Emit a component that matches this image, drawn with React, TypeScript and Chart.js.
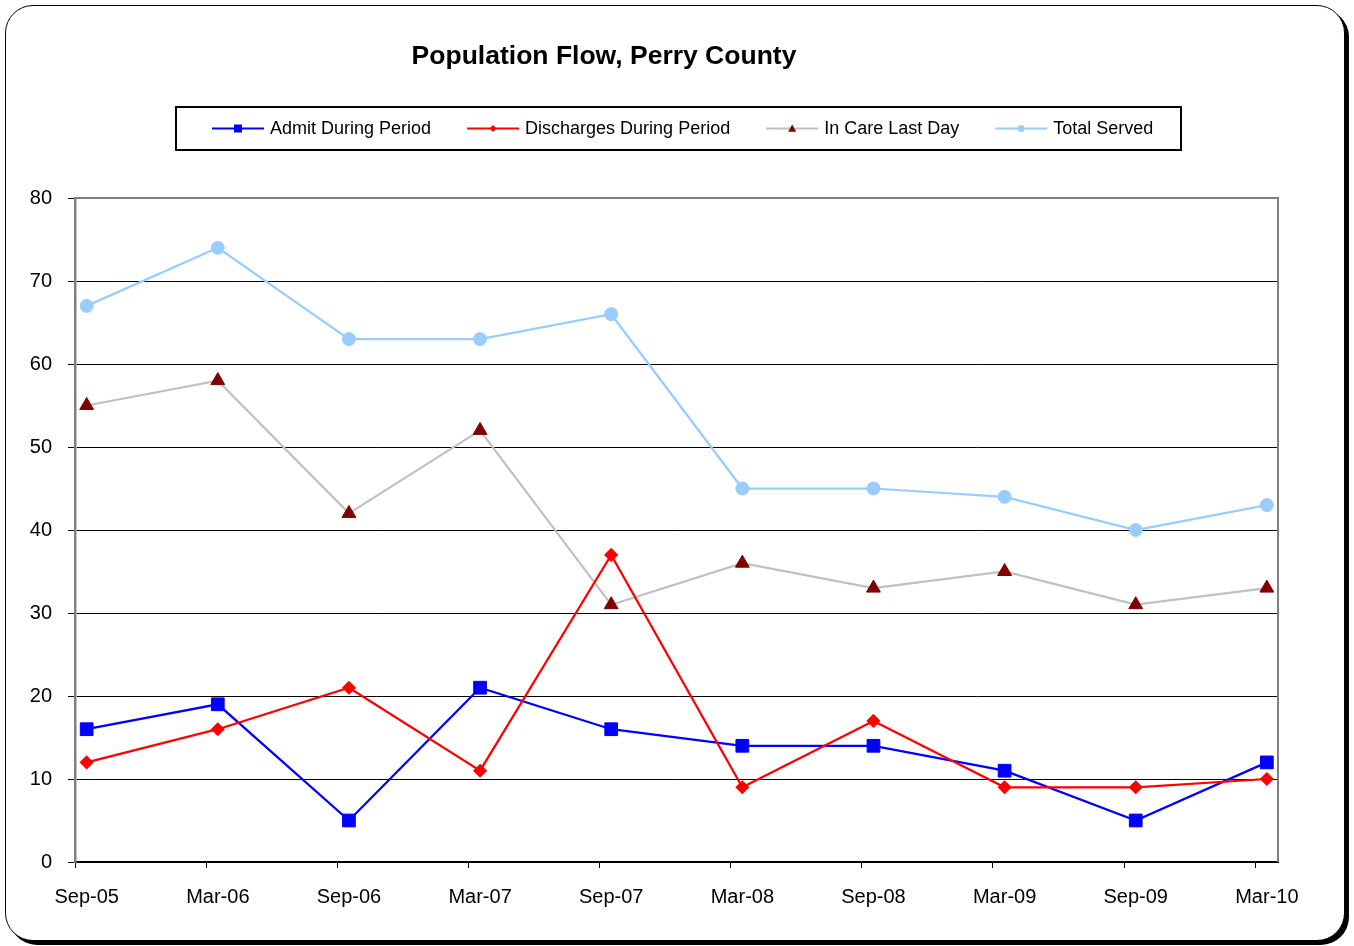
import React, { useEffect, useRef } from 'react';
import { Chart, registerables } from 'chart.js';

Chart.register(...registerables);

const chartTitle = 'Population Flow, Perry County';
const categories = ['Sep-05', 'Mar-06', 'Sep-06', 'Mar-07', 'Sep-07', 'Mar-08', 'Sep-08', 'Mar-09', 'Sep-09', 'Mar-10'];
const seriesNames = ['Admit During Period', 'Discharges During Period', 'In Care Last Day', 'Total Served'];
const admitDuringPeriod = [16, 19, 5, 21, 16, 14, 14, 11, 5, 12];
const dischargesDuringPeriod = [12, 16, 21, 11, 37, 9, 17, 9, 9, 10];
const inCareLastDay = [55, 58, 42, 52, 31, 36, 33, 35, 31, 33];
const totalServed = [67, 74, 63, 63, 66, 45, 45, 44, 40, 43];
const yMin = 0;
const yMax = 80;
const yStep = 10;

const FONT = '"Liberation Sans", Arial, Helvetica, sans-serif';
const TICK_SHIFT = 0.089;

function drawMarker(ctx: CanvasRenderingContext2D, style: string, x: number, y: number, r: number, color: string) {
  ctx.save();
  ctx.fillStyle = color;
  ctx.beginPath();
  if (style === 'rect') {
    ctx.rect(x - r, y - r, 2 * r, 2 * r);
  } else if (style === 'rectRot') {
    ctx.moveTo(x, y - r);
    ctx.lineTo(x + r, y);
    ctx.lineTo(x, y + r);
    ctx.lineTo(x - r, y);
    ctx.closePath();
  } else if (style === 'triangle') {
    ctx.moveTo(x, y - r);
    ctx.lineTo(x + r, y + r * 0.8);
    ctx.lineTo(x - r, y + r * 0.8);
    ctx.closePath();
  } else {
    ctx.arc(x, y, r, 0, Math.PI * 2);
  }
  ctx.fill();
  ctx.restore();
}

const legendSizes: Record<string, number> = { rect: 4, rectRot: 3.5, triangle: 4, circle: 3.5 };

const decorPlugin = {
  id: 'decor',
  beforeDatasetsDraw(chart: any) {
    const { ctx, chartArea } = chart;
    ctx.save();
    ctx.strokeStyle = '#808080';
    ctx.lineWidth = 2;
    ctx.beginPath();
    ctx.moveTo(chartArea.left, chartArea.top);
    ctx.lineTo(chartArea.right, chartArea.top);
    ctx.lineTo(chartArea.right, chartArea.bottom);
    ctx.stroke();
    ctx.restore();
  },
  afterDraw(chart: any) {
    const ctx: CanvasRenderingContext2D = chart.ctx;
    ctx.save();
    ctx.fillStyle = '#000';
    ctx.font = `bold 26.5px ${FONT}`;
    ctx.textAlign = 'center';
    ctx.textBaseline = 'middle';
    ctx.fillText(chartTitle, 604, 57);
    ctx.strokeStyle = '#000';
    ctx.lineWidth = 2;
    ctx.strokeRect(176, 107, 1005, 43);
    ctx.font = `18px ${FONT}`;
    ctx.textAlign = 'left';
    ctx.textBaseline = 'middle';
    let x = 212;
    const y = 128.5;
    chart.data.datasets.forEach((ds: any) => {
      ctx.strokeStyle = ds.borderColor;
      ctx.lineWidth = 2;
      ctx.beginPath();
      ctx.moveTo(x, y);
      ctx.lineTo(x + 52, y);
      ctx.stroke();
      drawMarker(ctx, ds.pointStyle, x + 26, y, legendSizes[ds.pointStyle] || 4, ds.pointBackgroundColor);
      ctx.fillStyle = '#000';
      ctx.fillText(ds.label, x + 58, y + 0.5);
      x = x + 58 + ctx.measureText(ds.label).width + 36;
    });
    ctx.restore();
  },
};

const toPoints = (arr: number[]) => arr.map((v, i) => ({ x: i, y: v }));

export default function App() {
  const ref = useRef<HTMLCanvasElement | null>(null);

  useEffect(() => {
    if (!ref.current) return;
    const chart = new Chart(ref.current, {
      type: 'line',
      data: {
        datasets: [
          {
            label: seriesNames[0],
            data: toPoints(admitDuringPeriod),
            borderColor: '#0000FF',
            backgroundColor: '#0000FF',
            pointBackgroundColor: '#0000FF',
            pointBorderColor: '#0000FF',
            pointStyle: 'rect',
            pointRadius: 9,
            pointBorderWidth: 1,
            borderWidth: 2.25,
            order: 2,
          },
          {
            label: seriesNames[1],
            data: toPoints(dischargesDuringPeriod),
            borderColor: '#FF0000',
            backgroundColor: '#FF0000',
            pointBackgroundColor: '#FF0000',
            pointBorderColor: '#FF0000',
            pointStyle: 'rectRot',
            pointRadius: 6,
            pointBorderWidth: 1.5,
            borderWidth: 2.25,
            order: 0,
          },
          {
            label: seriesNames[2],
            data: toPoints(inCareLastDay),
            borderColor: '#C0C0C0',
            backgroundColor: '#800000',
            pointBackgroundColor: '#800000',
            pointBorderColor: '#800000',
            pointStyle: 'triangle',
            pointRadius: 8,
            pointBorderWidth: 1,
            borderWidth: 2.25,
            order: 3,
          },
          {
            label: seriesNames[3],
            data: toPoints(totalServed),
            borderColor: '#99CCFF',
            backgroundColor: '#99CCFF',
            pointBackgroundColor: '#99CCFF',
            pointBorderColor: '#99CCFF',
            pointStyle: 'circle',
            pointRadius: 6.5,
            pointBorderWidth: 1,
            borderWidth: 2.25,
            order: 1,
          },
        ],
      },
      options: {
        responsive: false,
        animation: false,
        devicePixelRatio: 1,
        layout: { padding: { left: 0, top: 198, right: 76, bottom: 0 } },
        plugins: {
          legend: { display: false },
          title: { display: false },
          tooltip: { enabled: false },
        },
        scales: {
          x: {
            type: 'linear',
            bounds: 'data',
            min: -TICK_SHIFT,
            max: categories.length - 1 + 0.085,
            afterBuildTicks: (scale: any) => {
              scale.ticks = categories.map((_, i) => ({ value: i - TICK_SHIFT }));
            },
            afterFit: (scale: any) => {
              scale.height = 84;
            },
            ticks: {
              autoSkip: false,
              maxRotation: 0,
              minRotation: 0,
              labelOffset: 11.7,
              padding: 17,
              color: '#000',
              font: { family: FONT, size: 20 },
              callback: (_v: any, index: number) => categories[index],
            },
            grid: {
              drawOnChartArea: false,
              drawTicks: true,
              tickLength: 6,
              color: '#000',
              tickColor: '#000',
              lineWidth: 1,
            },
            border: { display: true, color: '#000', width: 2 },
          },
          y: {
            type: 'linear',
            min: yMin,
            max: yMax,
            afterFit: (scale: any) => {
              scale.width = 75;
            },
            ticks: {
              stepSize: yStep,
              padding: 16,
              color: '#000',
              font: { family: FONT, size: 20 },
            },
            grid: {
              color: '#000',
              tickColor: '#000',
              lineWidth: 1,
              tickLength: 7,
              drawTicks: true,
            },
            border: { display: true, color: '#808080', width: 2.5 },
          },
        },
      },
      plugins: [decorPlugin],
    } as any);
    return () => chart.destroy();
  }, []);

  return (
    <div style={{ position: 'absolute', left: 0, top: 0, width: 1354, height: 946 }}>
      <div
        style={{
          position: 'absolute',
          left: 5,
          top: 5,
          width: 1338,
          height: 934,
          border: '1px solid #000',
          borderRadius: 28,
          boxShadow: '4px 4px 0 0 #000',
          background: '#fff',
        }}
      />
      <canvas
        ref={ref}
        width={1354}
        height={946}
        style={{ position: 'absolute', left: 0, top: 0, width: 1354, height: 946 }}
      />
    </div>
  );
}
